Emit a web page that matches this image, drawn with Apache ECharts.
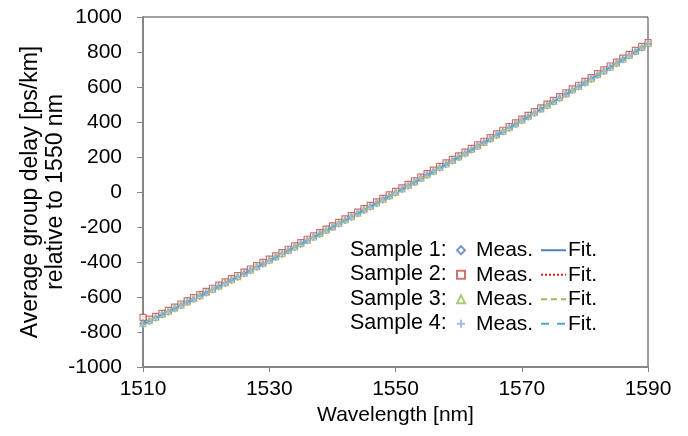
<!DOCTYPE html>
<html>
<head>
<meta charset="utf-8">
<script src="https://cdn.jsdelivr.net/npm/echarts@6/dist/echarts.min.js"></script>
<style>
  html, body { margin: 0; padding: 0; background: #fff; }
  #chart { width: 688px; height: 436px; }
</style>
</head>
<body>
<div id="chart"></div>
<script>
// measured wavelengths [nm]
const wavelengths = [
  1510, 1511, 1512, 1513, 1514, 1515, 1516, 1517, 1518, 1519,
  1520, 1521, 1522, 1523, 1524, 1525, 1526, 1527, 1528, 1529,
  1530, 1531, 1532, 1533, 1534, 1535, 1536, 1537, 1538, 1539,
  1540, 1541, 1542, 1543, 1544, 1545, 1546, 1547, 1548, 1549,
  1550, 1551, 1552, 1553, 1554, 1555, 1556, 1557, 1558, 1559,
  1560, 1561, 1562, 1563, 1564, 1565, 1566, 1567, 1568, 1569,
  1570, 1571, 1572, 1573, 1574, 1575, 1576, 1577, 1578, 1579,
  1580, 1581, 1582, 1583, 1584, 1585, 1586, 1587, 1588, 1589,
  1590
];

// average group delay [ps/km], relative to 1550 nm
const sample1 = [
  -750, -733, -715, -697, -680, -662, -644, -626, -608, -590,
  -572, -554, -536, -517, -499, -481, -462, -444, -425, -406,
  -388, -369, -350, -331, -312, -293, -274, -255, -236, -216,
  -197, -178, -158, -139, -119, -99, -80, -60, -40, -20,
  0, 20, 40, 60, 81, 101, 121, 142, 162, 183,
  203, 224, 245, 265, 286, 307, 328, 349, 370, 391,
  413, 434, 455, 477, 498, 520, 541, 563, 585, 606,
  628, 650, 672, 694, 716, 738, 761, 783, 805, 828,
  850
];
const sample2 = [
  -716, -726, -711, -693, -676, -658, -640, -622, -604, -586,
  -568, -550, -532, -513, -495, -477, -458, -440, -421, -402,
  -384, -365, -346, -327, -308, -289, -270, -251, -232, -212,
  -193, -174, -154, -135, -115, -95, -76, -56, -36, -16,
  4, 24, 44, 64, 85, 105, 125, 146, 166, 187,
  207, 228, 249, 269, 290, 311, 332, 353, 374, 395,
  417, 438, 459, 481, 502, 524, 545, 567, 589, 610,
  632, 654, 676, 698, 720, 742, 765, 787, 809, 832,
  854
];
const sample3 = [
  -752, -735, -717, -699, -682, -664, -646, -628, -610, -592,
  -574, -556, -538, -519, -501, -483, -464, -446, -427, -408,
  -390, -371, -352, -333, -314, -295, -276, -257, -238, -218,
  -199, -180, -160, -141, -121, -101, -82, -62, -42, -22,
  -2, 18, 38, 58, 79, 99, 119, 140, 160, 181,
  201, 222, 243, 263, 284, 305, 326, 347, 368, 389,
  411, 432, 453, 475, 496, 518, 539, 561, 583, 604,
  626, 648, 670, 692, 714, 736, 759, 781, 803, 826,
  848
];
const sample4 = [
  -757, -738, -720, -702, -685, -667, -649, -631, -613, -595,
  -577, -559, -541, -522, -504, -486, -467, -449, -430, -411,
  -393, -374, -355, -336, -317, -298, -279, -260, -241, -221,
  -202, -183, -163, -144, -124, -104, -85, -65, -45, -25,
  -5, 15, 35, 55, 76, 96, 116, 137, 157, 178,
  198, 219, 240, 260, 281, 302, 323, 344, 365, 386,
  408, 429, 450, 472, 493, 515, 536, 558, 580, 601,
  623, 645, 667, 689, 711, 733, 756, 778, 800, 823,
  845
];

// fitted curves
const fitWavelengths = [1510, 1520, 1530, 1540, 1550, 1560, 1570, 1580, 1590];
const fit1 = [-750, -572, -388, -197, 0, 203, 413, 628, 850];
const fit2 = [-746, -568, -384, -193, 4, 207, 417, 632, 854];
const fit3 = [-752, -574, -390, -199, -2, 201, 411, 626, 848];
const fit4 = [-755, -577, -393, -202, -5, 198, 408, 623, 845];

const sampleNames = ["Sample 1:", "Sample 2:", "Sample 3:", "Sample 4:"];

const FONT = "'Liberation Sans', Arial, sans-serif";
const plusPath = "path://M3,0H5V3H8V5H5V8H3V5H0V3H3Z";

let pairs = (xs, ys) => xs.map((x, i) => [x, ys[i]]);

let meas = [sample1, sample2, sample3, sample4];
let fits = [fit1, fit2, fit3, fit4];
let markerColors = ["#4F81BD", "#C0504D", "#9BBB59", "#8FAADC"];
let symbols = ["diamond", "rect", "triangle", plusPath];
let symbolSizes = [[6, 7], 6, 6, 7];
let lineColors = ["#4F81BD", "#E0201C", "#9BBB59", "#4BACC6"];
let lineTypes = ["solid", [2, 2], [6, 4], [8, 8]];

let series = [];
for (let i = 0; i < 4; i++) {
  series.push({
    name: "fit" + (i + 1),
    type: "line",
    data: pairs(fitWavelengths, fits[i]),
    smooth: true,
    symbol: "none",
    lineStyle: { color: lineColors[i], width: 2, type: lineTypes[i] },
    itemStyle: { color: lineColors[i] },
    z: 2 + i * 2,
  });
  let filled = i === 3;
  series.push({
    name: "meas" + (i + 1),
    type: "scatter",
    data: pairs(wavelengths, meas[i]),
    symbol: symbols[i],
    symbolSize: symbolSizes[i],
    itemStyle: filled
      ? { color: markerColors[i] }
      : { color: "#fff", borderColor: markerColors[i], borderWidth: 1.2 },
    z: 3 + i * 2,
  });
}

let sampleLabels = sampleNames.map((t, i) => ({
  type: "text",
  left: 350,
  top: 239 + i * 24.5,
  style: { text: t, font: "21.5px " + FONT, fill: "#000" },
  z: 100,
}));

let chart = echarts.init(document.getElementById("chart"));
chart.setOption({
  animation: false,
  backgroundColor: "#fff",
  textStyle: { fontFamily: FONT },
  grid: {
    left: 143,
    right: 40,
    top: 17,
    bottom: 69,
    outerBoundsMode: "none",
    show: true,
    borderColor: "#404040",
    borderWidth: 1,
  },
  xAxis: {
    type: "value",
    min: 1510,
    max: 1590,
    interval: 20,
    name: "Wavelength [nm]",
    nameLocation: "middle",
    nameGap: 37,
    nameTextStyle: { fontSize: 21, color: "#000", fontFamily: FONT },
    axisLine: { onZero: false, lineStyle: { color: "#868686", width: 2 } },
    axisTick: { show: true, length: 5, lineStyle: { color: "#868686" } },
    splitLine: { show: false },
    axisLabel: { fontSize: 21, color: "#000", margin: 12, fontFamily: FONT, formatter: (v) => String(v) },
  },
  yAxis: {
    type: "value",
    min: -1000,
    max: 1000,
    interval: 200,
    name: "Average group delay [ps/km]\nrelative to 1550 nm",
    nameLocation: "middle",
    nameRotate: 90,
    nameGap: 75,
    nameMoveOverlap: false,
    nameTextStyle: {
      fontSize: 23,
      lineHeight: 25,
      color: "#000",
      fontFamily: FONT,
      align: "center",
    },
    axisLine: { onZero: false, lineStyle: { color: "#868686", width: 2 } },
    axisTick: { show: true, length: 6, lineStyle: { color: "#868686" } },
    splitLine: { show: false },
    axisLabel: { fontSize: 21, color: "#000", margin: 21, fontFamily: FONT, formatter: (v) => String(v) },
  },
  legend: [
    {
      data: ["meas1", "meas2", "meas3", "meas4"],
      orient: "vertical",
      left: 456,
      top: 238,
      itemWidth: 8,
      itemHeight: 8,
      itemGap: 0,
      padding: 0,
      formatter: () => "Meas.",
      textStyle: { fontSize: 21, lineHeight: 24.5, color: "#000", fontFamily: FONT, padding: [0, 0, 0, 6] },
    },
    {
      data: ["fit1", "fit2", "fit3", "fit4"],
      orient: "vertical",
      left: 540,
      top: 238,
      itemWidth: 25,
      itemHeight: 8,
      itemGap: 0,
      padding: 0,
      itemStyle: { color: "rgba(0,0,0,0)", borderWidth: 0 },
      formatter: () => "Fit.",
      textStyle: { fontSize: 21, lineHeight: 24.5, color: "#000", fontFamily: FONT, padding: [0, 0, 0, -3] },
    },
  ],
  graphic: sampleLabels,
  series: series,
});
</script>
</body>
</html>
